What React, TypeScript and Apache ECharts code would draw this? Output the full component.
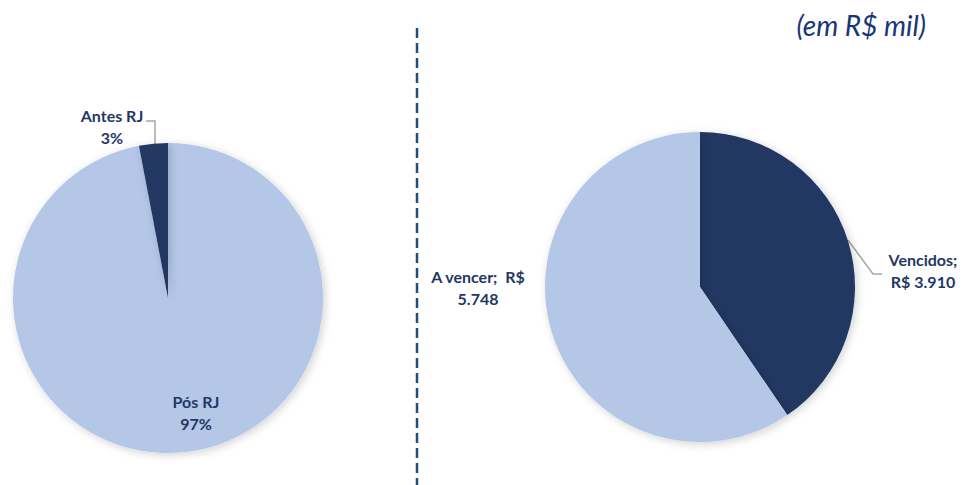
import React, { useEffect, useRef } from "react";
import * as echarts from "echarts";

const leftNames = ["Pós RJ", "Antes RJ"];
const leftValues = [97, 3];
const rightNames = ["Vencidos", "A vencer"];
const rightValues = [3910, 5748];
const titleText = "(em R$ mil)";

const DARK = "#203864";
const LIGHT = "#B4C7E7";
const TEXT = "#1F3864";

const fmt = (v: number) => String(v).replace(/\B(?=(\d{3})+(?!\d))/g, ".");

export default function App() {
  const ref = useRef<HTMLDivElement>(null);
  useEffect(() => {
    if (!ref.current) return;
    const chart = echarts.init(ref.current, undefined, { renderer: "svg" });
    const labelBase = {
      color: TEXT,
      fontFamily: "Lato",
      fontWeight: "bold" as const,
      fontSize: 16,
      lineHeight: 22,
      align: "center" as const,
      overflow: "none" as const,
    };
    const shadow = {
      shadowBlur: 8,
      shadowColor: "rgba(0,0,0,0.18)",
      shadowOffsetX: 2,
      shadowOffsetY: 2,
    };
    const leftColors = [LIGHT, DARK];
    const rightColors = [DARK, LIGHT];
    chart.setOption({
      animation: false,
      graphic: [
        {
          type: "line",
          shape: { x1: 417, y1: 28, x2: 417, y2: 485 },
          style: { stroke: "#1F4E79", lineWidth: 2.5, lineDash: [10, 5] },
        },
        {
          type: "text",
          x: 926,
          y: 25,
          style: {
            text: titleText,
            fill: "#17367A",
            font: "italic 28px Lato",
            align: "right",
            verticalAlign: "middle",
          },
        },
      ],
      series: [
        {
          type: "pie",
          center: [168, 298],
          radius: 155,
          startAngle: 90,
          clockwise: true,
          label: { ...labelBase },
          labelLine: { show: true, lineStyle: { color: "#A6A6A6", width: 1.5 }, smooth: false },
          itemStyle: shadow,
          data: leftNames.map((n, i) => ({
            name: n,
            value: leftValues[i],
            itemStyle: { color: leftColors[i] },
            label: {
              position: i === 0 ? "inside" : "outside",
              formatter: `${n}\n${leftValues[i]}%`,
            },
            labelLine: { show: i !== 0 },
          })),
          labelLayout: (p: any) =>
            p.dataIndex === 0
              ? { x: 196, y: 412, align: "center", verticalAlign: "middle" }
              : {
                  x: 112,
                  y: 126,
                  align: "center",
                  verticalAlign: "middle",
                  labelLinePoints: [
                    [155, 144],
                    [155, 121],
                    [146, 121],
                  ],
                },
        },
        {
          type: "pie",
          center: [700, 287],
          radius: 155,
          startAngle: 90,
          clockwise: true,
          label: { ...labelBase },
          labelLine: { show: true, lineStyle: { color: "#A6A6A6", width: 1.5 }, smooth: false },
          itemStyle: shadow,
          data: rightNames.map((n, i) => ({
            name: n,
            value: rightValues[i],
            itemStyle: { color: rightColors[i] },
            label: {
              position: "outside",
              formatter:
                i === 0
                  ? `${n};\nR$ ${fmt(rightValues[i])}`
                  : `${n};  R$\n${fmt(rightValues[i])}`,
            },
            labelLine: { show: i === 0 },
          })),
          labelLayout: (p: any) =>
            p.dataIndex === 0
              ? {
                  x: 923,
                  y: 270,
                  align: "center",
                  verticalAlign: "middle",
                  labelLinePoints: [
                    [848, 240],
                    [873, 274],
                    [882, 274],
                  ],
                }
              : { x: 478, y: 287, align: "center", verticalAlign: "middle" },
        },
      ],
    });
    return () => chart.dispose();
  }, []);
  return (
    <div
      ref={ref}
      style={{ position: "absolute", left: 0, top: 0, width: 965, height: 485, background: "#fff" }}
    />
  );
}
